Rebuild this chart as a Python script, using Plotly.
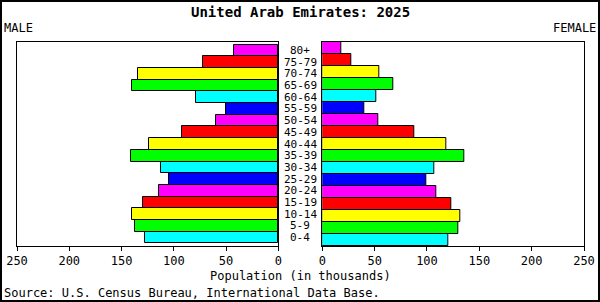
import plotly.graph_objects as go

ages = ["0-4", "5-9", "10-14", "15-19", "20-24", "25-29", "30-34", "35-39",
        "40-44", "45-49", "50-54", "55-59", "60-64", "65-69", "70-74", "75-79", "80+"]
male = [127.4, 137.3, 139.6, 129.7, 113.8, 104.5, 112.1, 140.8,
        123.6, 92.4, 59.6, 50.0, 78.4, 139.6, 134.4, 71.7, 42.0]
female = [120.7, 130.3, 132.2, 123.6, 108.6, 99.7, 107.0, 135.6,
          118.4, 87.9, 53.5, 40.1, 51.6, 68.2, 54.4, 27.4, 18.1]
palette = ["#00FFFF", "#00FF00", "#FFFF00", "#FF0000", "#FF00FF", "#0000FF"]
colors = [palette[i % 6] for i in range(len(ages))]
ticks = [0, 50, 100, 150, 200, 250]

FONT = "DejaVu Sans Mono"
W, H = 600, 302

fig = go.Figure()
fig.add_trace(go.Bar(y=ages, x=male, orientation="h", xaxis="x", yaxis="y",
                     marker=dict(color=colors, line=dict(color="black", width=1)),
                     showlegend=False))
fig.add_trace(go.Bar(y=ages, x=female, orientation="h", xaxis="x2", yaxis="y2",
                     marker=dict(color=colors, line=dict(color="black", width=1)),
                     showlegend=False))

ydom = [(H - 246) / H, (H - 42) / H]
axis_common = dict(showline=True, linecolor="black", linewidth=1, mirror=True, automargin=False,
                   ticks="outside", ticklen=4, tickcolor="black", showgrid=False,
                   zeroline=False, tickvals=ticks, tickfont=dict(family=FONT, size=12, color="black"))
yaxis_common = dict(domain=ydom, showline=True, linecolor="black", linewidth=1, automargin=False,
                    mirror=True, showticklabels=False, ticks="", showgrid=False,
                    categoryorder="array", categoryarray=ages)
fig.update_layout(
    width=W, height=H, autosize=False,
    margin=dict(l=0, r=0, t=0, b=0, pad=0),
    paper_bgcolor="white", plot_bgcolor="white",
    bargap=0,
    xaxis=dict(domain=[17 / W, 278.3 / W], range=[250, 0], anchor="y", **axis_common),
    xaxis2=dict(domain=[322.3 / W, 584 / W], range=[0, 250], anchor="y2", **axis_common),
    yaxis=dict(anchor="x", **yaxis_common),
    yaxis2=dict(anchor="x2", **yaxis_common),
    font=dict(family=FONT, size=12, color="black"),
)

annotations = []
for a in ages:
    annotations.append(dict(x=0.5, xref="paper", y=a, yref="y", text=a, showarrow=False,
                            xanchor="center", yanchor="middle",
                            font=dict(family=FONT, size=11, color="black")))
annotations += [
    dict(x=0.5, xref="paper", y=1 - 12 / H, yref="paper", text="<b>United Arab Emirates: 2025</b>",
         showarrow=False, xanchor="center", yanchor="middle", font=dict(family=FONT, size=14, color="black")),
    dict(x=2 / W, xref="paper", y=1 - 28 / H, yref="paper", text="MALE", showarrow=False,
         xanchor="left", yanchor="middle", font=dict(family=FONT, size=12, color="black")),
    dict(x=598 / W, xref="paper", y=1 - 28 / H, yref="paper", text="FEMALE", showarrow=False,
         xanchor="right", yanchor="middle", font=dict(family=FONT, size=12, color="black")),
    dict(x=0.5, xref="paper", y=1 - 276 / H, yref="paper", text="Population (in thousands)",
         showarrow=False, xanchor="center", yanchor="middle", font=dict(family=FONT, size=12, color="black")),
    dict(x=2 / W, xref="paper", y=1 - 293 / H, yref="paper",
         text="Source: U.S. Census Bureau, International Data Base.",
         showarrow=False, xanchor="left", yanchor="middle", font=dict(family=FONT, size=12, color="black")),
]
fig.update_layout(annotations=annotations)
fig.add_shape(type="rect", xref="paper", yref="paper", x0=0, x1=1, y0=0, y1=1,
              line=dict(color="black", width=4), fillcolor="rgba(0,0,0,0)", layer="above")

fig.write_html("out.html")
